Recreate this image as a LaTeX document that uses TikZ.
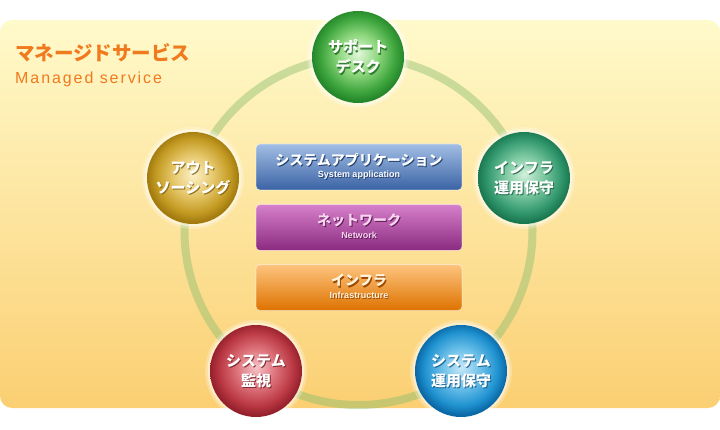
\documentclass[tikz,border=0pt]{standalone}
\usepackage{fontspec}
\setmainfont{Liberation Sans}
\newfontfamily\jp{Noto Sans CJK JP}
\newfontfamily\libsp{Liberation Sans}[LetterSpace=12]
\newfontfamily\libb{Liberation Sans}
\usetikzlibrary{shadings}
% panel & ring
\definecolor{paneltop}{HTML}{FFFACB}
\definecolor{panelbot}{HTML}{FBCF72}
\definecolor{ringcol}{HTML}{8CBE6E}
\definecolor{headcol}{HTML}{F07A1E}
% layer colours
\definecolor{appT}{HTML}{A2BEE4}\definecolor{appM}{HTML}{6A90C8}\definecolor{appB}{HTML}{3A62A4}\definecolor{appS}{HTML}{23406E}
\definecolor{netT}{HTML}{D680CA}\definecolor{netM}{HTML}{B54AA8}\definecolor{netB}{HTML}{8A2A80}\definecolor{netS}{HTML}{5E1A56}\definecolor{netF}{HTML}{F8D4F0}
\definecolor{infT}{HTML}{FDC47E}\definecolor{infM}{HTML}{F7A032}\definecolor{infB}{HTML}{DE7200}\definecolor{infS}{HTML}{9A4A00}\definecolor{infF}{HTML}{FFF4E0}
% ball colours
\definecolor{g0}{HTML}{E2F8DA}\definecolor{g1}{HTML}{8CD67C}\definecolor{g2}{HTML}{3FA63E}\definecolor{g3}{HTML}{24872A}\definecolor{gS}{HTML}{1C6A1E}
\definecolor{y0}{HTML}{FCF2C8}\definecolor{y1}{HTML}{E6C76C}\definecolor{y2}{HTML}{C49C24}\definecolor{y3}{HTML}{A27A0E}\definecolor{yS}{HTML}{7A5A08}
\definecolor{t0}{HTML}{D2F0DC}\definecolor{t1}{HTML}{78C69E}\definecolor{t2}{HTML}{33986E}\definecolor{t3}{HTML}{1A7850}\definecolor{tS}{HTML}{145C3C}
\definecolor{r0}{HTML}{F6C2C6}\definecolor{r1}{HTML}{DC7079}\definecolor{r2}{HTML}{BA3843}\definecolor{r3}{HTML}{94202C}\definecolor{rS}{HTML}{6E1820}
\definecolor{b0}{HTML}{C6E8F8}\definecolor{b1}{HTML}{68BEE8}\definecolor{b2}{HTML}{2092D0}\definecolor{b3}{HTML}{0A68A6}\definecolor{bS}{HTML}{08507E}
\pgfdeclareradialshading{gball}{\pgfpoint{0bp}{2bp}}{color(0bp)=(g0); color(11bp)=(g1); color(20bp)=(g2); color(25bp)=(g3); color(50bp)=(g3)}
\pgfdeclareradialshading{yball}{\pgfpoint{0bp}{2bp}}{color(0bp)=(y0); color(11bp)=(y1); color(20bp)=(y2); color(25bp)=(y3); color(50bp)=(y3)}
\pgfdeclareradialshading{tball}{\pgfpoint{0bp}{2bp}}{color(0bp)=(t0); color(11bp)=(t1); color(20bp)=(t2); color(25bp)=(t3); color(50bp)=(t3)}
\pgfdeclareradialshading{rball}{\pgfpoint{0bp}{2bp}}{color(0bp)=(r0); color(11bp)=(r1); color(20bp)=(r2); color(25bp)=(r3); color(50bp)=(r3)}
\pgfdeclareradialshading{bball}{\pgfpoint{0bp}{2bp}}{color(0bp)=(b0); color(11bp)=(b1); color(20bp)=(b2); color(25bp)=(b3); color(50bp)=(b3)}
\tikzset{
  haloA/.style={circle, fill=white, opacity=0.25, minimum size=102pt, inner sep=0pt},
  haloB/.style={circle, fill=white, opacity=0.45, minimum size=97pt, inner sep=0pt},
  ballshape/.style={circle, minimum size=92pt, inner sep=0pt},
  balltext/.style={font=\jp\bfseries\fontsize{15}{20}\selectfont, align=center, text=white, inner sep=0pt},
  layerbox/.style={rectangle, rounded corners=4pt, minimum width=206pt, minimum height=46pt, draw=white, draw opacity=0.5, line width=0.8pt, inner sep=0pt},
  boxjp/.style={font=\jp\bfseries\fontsize{14}{16}\selectfont, inner sep=0pt},
  boxen/.style={font=\libb\bfseries\fontsize{9}{10}\selectfont, inner sep=0pt},
}
\newcommand\ballnode[6]{%
  \node[haloA] (#1ha) at (#2,#3) {};
  \node[haloB] (#1hb) at (#2,#3) {};
  \node[ballshape, shading=#4] (#1) at (#2,#3) {};
  \node[balltext, text=#6, opacity=0.8, xshift=1pt, yshift=-1.3pt] (#1s) at (#1) {#5};
  \node[balltext] (#1t) at (#1) {#5};
}
\newcommand\layer[9]{% name, y, top, mid, bottom, jp text, en text, text col, shadow col
  \node[layerbox, top color=#3, middle color=#4, bottom color=#5] (#1) at (359,#2) {};
  \node[boxjp, text=#9, xshift=1pt, yshift=-1.2pt] (#1js) at ([yshift=7pt]#1.center) {#6};
  \node[boxjp, text=#8] (#1j) at ([yshift=7pt]#1.center) {#6};
  \node[boxen, text=#9, xshift=0.8pt, yshift=-1pt] (#1es) at ([yshift=-8pt]#1.center) {#7};
  \node[boxen, text=#8] (#1e) at ([yshift=-8pt]#1.center) {#7};
}
\begin{document}
\begin{tikzpicture}[x=1pt,y=-1pt]
  \useasboundingbox (0,0) rectangle (720,430);
  \fill[white] (0,0) rectangle (720,430);
  % panel
  \shade[top color=paneltop, bottom color=panelbot, rounded corners=12pt] (0,20) rectangle (720,408);
  % ring
  \coordinate (rc) at (358.5,231);
  \draw[ringcol, opacity=0.45, line width=8pt] (rc) circle[radius=174pt];
  % heading
  \node[anchor=west, text=headcol, font=\jp\bfseries\fontsize{19.5}{20}\selectfont, inner sep=0pt] (hjp) at (15,53) {マネージドサービス};
  \node[anchor=west, text=headcol, font=\libsp\fontsize{16}{18}\selectfont, inner sep=0pt] (hen) at (15,79) {Managed service};
  % layers
  \layer{app}{167}{appT}{appM}{appB}{システムアプリケーション}{System application}{white}{appS}
  \layer{net}{227.5}{netT}{netM}{netB}{ネットワーク}{Network}{netF}{netS}
  \layer{inf}{287.5}{infT}{infM}{infB}{インフラ}{Infrastructure}{infF}{infS}
  % balls
  \ballnode{sup}{358}{57}{gball}{サポート\\デスク}{gS}
  \ballnode{out}{193}{178}{yball}{アウト\\ソーシング}{yS}
  \ballnode{inf2}{524}{178}{tball}{インフラ\\運用保守}{tS}
  \ballnode{mon}{256}{371}{rball}{システム\\監視}{rS}
  \ballnode{ops}{461}{371}{bball}{システム\\運用保守}{bS}
\end{tikzpicture}
\end{document}
